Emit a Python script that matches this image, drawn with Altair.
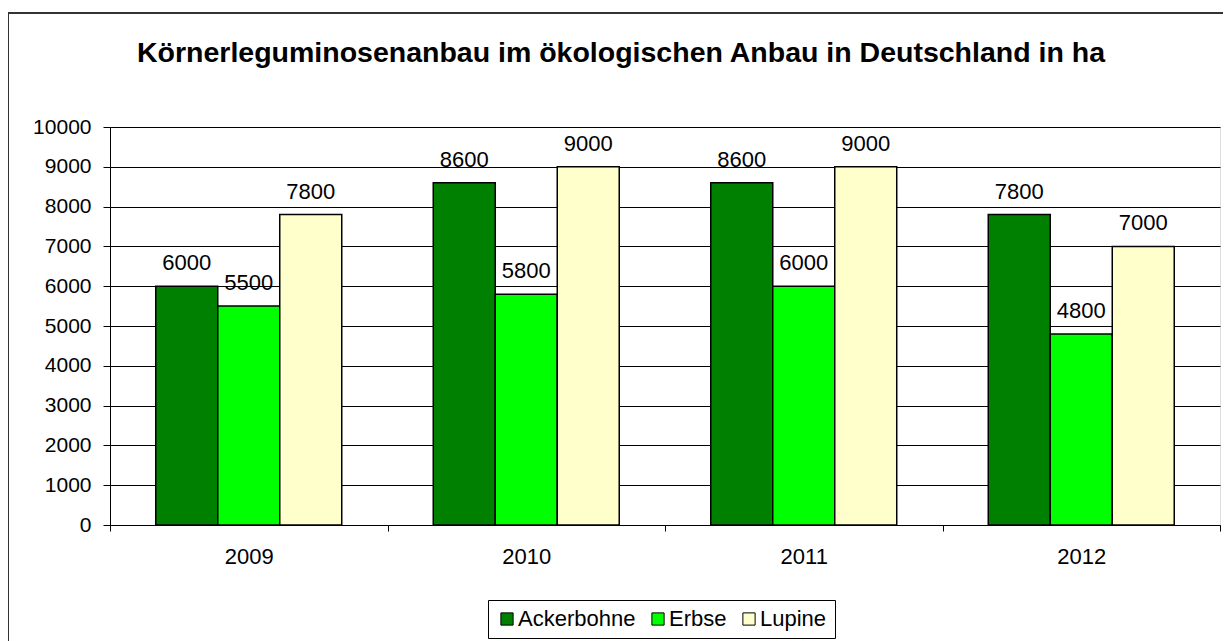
import altair as alt
import pandas as pd

years = ["2009", "2010", "2011", "2012"]
series = ["Ackerbohne", "Erbse", "Lupine"]
ackerbohne = [6000, 8600, 8600, 7800]
erbse = [5500, 5800, 6000, 4800]
lupine = [7800, 9000, 9000, 7000]
colors = ["#008000", "#00FF00", "#FFFFCC"]
title = "Körnerleguminosenanbau im ökologischen Anbau in Deutschland in ha"

rows = []
for s, vals in zip(series, [ackerbohne, erbse, lupine]):
    for y, v in zip(years, vals):
        rows.append({"Jahr": y, "Sorte": s, "ha": v})
df = pd.DataFrame(rows)

FONT = "Liberation Sans"

x = alt.X("Jahr:N", sort=years, title=None,
          scale=alt.Scale(paddingInner=0, paddingOuter=0),
          axis=alt.Axis(labelAngle=0, labelFontSize=22, labelColor="#000", labelFont=FONT,
                        labelPadding=15, domainColor="#000", tickColor="#000",
                        tickSize=6, tickBand="extent", grid=False))
xo = alt.XOffset("Sorte:N", sort=series, scale=alt.Scale(paddingInner=0, paddingOuter=0.738))
y = alt.Y("ha:Q", title=None,
          scale=alt.Scale(domain=[0, 10000], nice=False),
          axis=alt.Axis(values=list(range(0, 10001, 1000)), format="d", labelFontSize=21,
                        labelColor="#000", labelFont=FONT, labelPadding=12, tickSize=7,
                        tickColor="#000", domainColor="#000", gridColor="#000",
                        gridOpacity=1, gridWidth=1))

color = alt.Color("Sorte:N", sort=series,
                  scale=alt.Scale(domain=series, range=colors),
                  legend=alt.Legend(title=None, orient="none", legendX=378, legendY=473,
                                    direction="horizontal", symbolType="square",
                                    symbolSize=150, symbolStrokeColor="#000",
                                    symbolStrokeWidth=1, symbolOpacity=1,
                                    labelFontSize=22, labelFont=FONT, labelColor="#000",
                                    strokeColor="#000", padding=8, columnPadding=11,
                                    labelOffset=0))

bars = alt.Chart(df).mark_bar(stroke="#000", strokeWidth=1.5).encode(
    x=x, xOffset=xo, y=y, color=color)

labels = alt.Chart(df).mark_text(fontSize=22, font=FONT, color="#000",
                                  baseline="bottom", dy=-11).encode(
    x=x, xOffset=xo, y=y, text="ha:Q")

frame = alt.Chart(df).mark_rect(fill=None, stroke="#333", strokeWidth=2).encode(
    x=alt.value(-102), x2=alt.value(1150), y=alt.value(-114), y2=alt.value(600))

title_df = pd.DataFrame({"t": [title]})
title_mark = alt.Chart(title_df).mark_text(
    fontSize=28.5, font=FONT, fontWeight="bold", color="#000",
    align="center", baseline="alphabetic").encode(
    text="t:N", x=alt.value(511), y=alt.value(-65))

chart = alt.layer(frame, bars, labels, title_mark).properties(
    width=1110, height=398,
    autosize=alt.AutoSizeParams(type="none"),
    padding={"left": 102, "top": 119, "right": 3, "bottom": 116},
).configure_view(stroke="#888", strokeWidth=1).configure(background="white")

chart.save("out.html", embed_options={"renderer": "svg", "actions": False})
